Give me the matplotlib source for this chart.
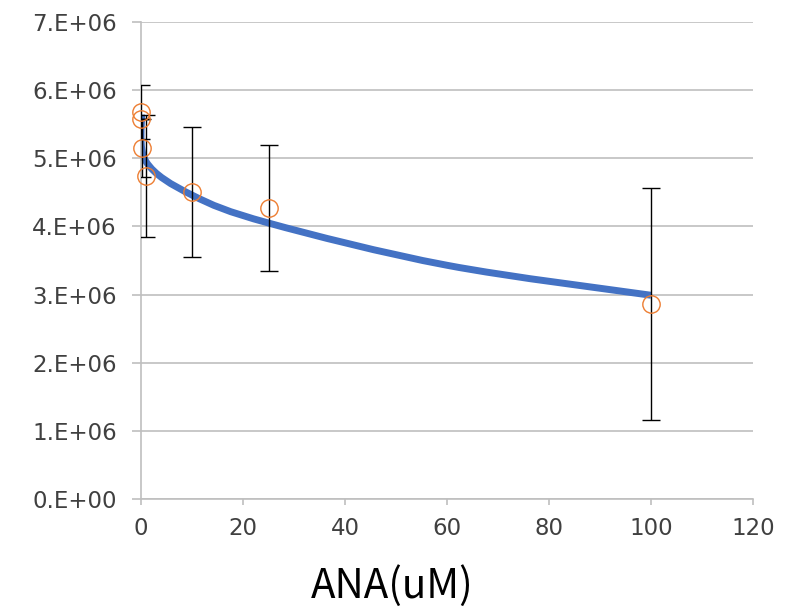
import numpy as np
import matplotlib.pyplot as plt
from matplotlib.path import Path
from matplotlib.patches import PathPatch
from matplotlib.ticker import FuncFormatter, MultipleLocator

plt.rcParams['font.family'] = ['Noto Sans CJK JP', 'DejaVu Sans']

# measured points (orange circles) with error bars
conc = [0, 0.01, 0.1, 1, 10, 25, 100]
signal = [5.68e6, 5.57e6, 5.15e6, 4.74e6, 4.51e6, 4.27e6, 2.86e6]
signal_err = [0.39e6, 0.0, 0.42e6, 0.90e6, 0.955e6, 0.92e6, 1.705e6]

# fitted curve values (blue smoothed line)
fit_conc = [0.1, 1, 10, 25, 60, 100]
fit_signal = [5.64e6, 4.95e6, 4.46e6, 4.05e6, 3.43e6, 2.99e6]

blue = "#4472C4"
orange = "#ED7D31"
gridcol = "#bfbfbf"


def smooth_path(xs, ys):
    # excel-like smoothed line: catmull-rom segments as cubic beziers
    pts = np.column_stack([xs, ys])
    n = len(pts)
    verts = [pts[0]]
    codes = [Path.MOVETO]
    for i in range(n - 1):
        p_prev = pts[i - 1] if i > 0 else pts[i]
        p_next2 = pts[i + 2] if i + 2 < n else pts[i + 1]
        c1 = pts[i] + (pts[i + 1] - p_prev) / 6
        c2 = pts[i + 1] - (p_next2 - pts[i]) / 6
        verts += [c1, c2, pts[i + 1]]
        codes += [Path.CURVE4] * 3
    return Path(verts, codes)


fig = plt.figure(figsize=(8.01, 6.09), dpi=100)
ax = fig.add_axes([141 / 801, 110 / 609, 612 / 801, 477 / 609])

ax.add_patch(PathPatch(smooth_path(fit_conc, fit_signal), facecolor="none",
                       edgecolor=blue, lw=5, capstyle="butt", zorder=2))

ax.errorbar(conc, signal, yerr=signal_err, fmt="none", ecolor="black",
            elinewidth=1, capsize=6.5, capthick=1, zorder=3)
ax.plot(conc, signal, "o", ms=12.5, mfc="none", mec=orange, mew=1,
        linestyle="none", zorder=4, clip_on=False)

ax.set_xlim(0, 120)
ax.set_ylim(0, 7e6)
ax.xaxis.set_major_locator(MultipleLocator(20))
ax.yaxis.set_major_locator(MultipleLocator(1e6))
ax.yaxis.set_major_formatter(FuncFormatter(lambda v, p: f"{v:#.0E}"))

ax.grid(True, axis="y", color=gridcol, lw=1.2)
ax.set_axisbelow(True)
for s in ["top", "right"]:
    ax.spines[s].set_visible(False)
for s in ["left", "bottom"]:
    ax.spines[s].set_color(gridcol)
    ax.spines[s].set_linewidth(1.2)

ax.tick_params(axis="y", length=6.5, width=1.2, color=gridcol, pad=11,
               labelsize=16.5, labelcolor="#404040")
ax.tick_params(axis="x", length=4.3, width=1.2, color=gridcol, pad=9,
               labelsize=16.5, labelcolor="#404040")
for lbl in ax.get_xticklabels() + ax.get_yticklabels():
    lbl.set_fontfamily("DejaVu Sans")

fig.text(392 / 801, 0.037, "ANA(uM)", ha="center", va="center",
         fontsize=29, color="black")

fig.savefig("out.png", dpi=100)
